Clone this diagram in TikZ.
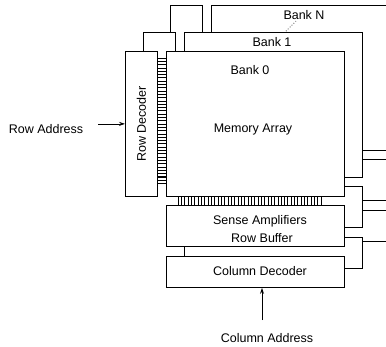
\documentclass[tikz,border=0pt]{standalone}
\usepackage{fontspec}
\setmainfont{Liberation Sans}
\usetikzlibrary{arrows.meta}
\begin{document}
\begin{tikzpicture}[x=1pt,y=-1pt,line width=0.8pt,
  blk/.style={draw, fill=white, inner sep=0pt, anchor=north west},
  rdbox/.style={blk, minimum width=32pt, minimum height=145pt},
  arbox/.style={blk, minimum width=178pt, minimum height=145pt},
  sabox/.style={blk, minimum width=178pt, minimum height=41pt},
  cdbox/.style={blk, minimum width=178pt, minimum height=31pt},
  lbl/.style={inner sep=0pt, text height=9pt, text depth=0pt, font=\fontsize{12.5}{14}\selectfont},
  arr/.style={-{Stealth[length=6pt,width=4pt]}}]
\useasboundingbox (0,0) rectangle (386,346);
\clip (0,0) rectangle (386,346);
% Bank N
\node[rdbox] (rdN) at (170,5) {};
\node[arbox] (arN) at (211,5) {};
\node[sabox] (saN) at (211,159) {};
\node[cdbox] (cdN) at (211,210) {};
\draw ([xshift=18pt]saN.south west) -- ([xshift=18pt]cdN.north west);
% Bank 1
\node[rdbox] (rd1) at (143,32) {};
\node[arbox] (ar1) at (184,32) {};
\node[sabox] (sa1) at (184,186) {};
\node[cdbox] (cd1) at (184,237) {};
\draw ([xshift=18pt]sa1.south west) -- ([xshift=18pt]cd1.north west);
% Bank 0
\node[rdbox] (rd0) at (125,51) {};
\node[arbox] (ar0) at (166,51) {};
\node[sabox] (sa0) at (166,205) {};
\node[cdbox] (cd0) at (166,256) {};
\draw ([xshift=18pt]sa0.south west) -- ([xshift=18pt]cd0.north west);
% combs
\foreach \i in {0,...,38} {
  \draw (rd0.east |- {(0,58+3.3*\i)}) -- (ar0.west |- {(0,58+3.3*\i)});
}
\foreach \i in {0,...,43} {
  \draw ({(178+3.33*\i,0)} |- ar0.south) -- ({(178+3.33*\i,0)} |- sa0.north);
}
% labels
\node[lbl] (lbN) at (304,15) {Bank N};
\node[lbl] (lb1) at (272,42) {Bank 1};
\node[lbl] (lb0) at (250,70) {Bank 0};
\node[lbl] (ma) at (253,128) {Memory Array};
\node[lbl, rotate=90] (rdl) at (rd0.center) {Row Decoder};
\node[lbl] (sal) at (260,220) {Sense Amplifiers};
\node[lbl] (rbl) at (262,238) {Row Buffer};
\node[lbl] (cdl) at (260,271) {Column Decoder};
\node[lbl] (ra) at (46,129) {Row Address};
\node[lbl] (ca) at (267,338) {Column Address};
% dotted pointer
\coordinate (dA) at (296,21);
\coordinate (dB) at (285,32);
\draw[dotted, line width=0.7pt] (dA) -- (dB);
% address arrows
\coordinate (raS) at (98,0);
\draw[arr] (raS |- rd0.west) -- (rd0.west);
\coordinate (caS) at (262,320);
\draw[arr] (caS) -- (caS |- cd0.south);
\end{tikzpicture}
\end{document}
